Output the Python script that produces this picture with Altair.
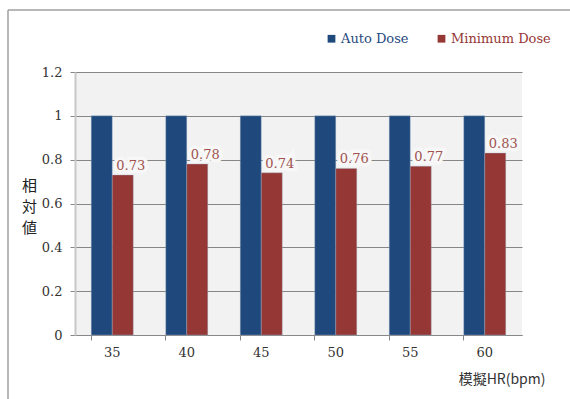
import altair as alt
import pandas as pd

hr = ["35", "40", "45", "50", "55", "60"]
auto_dose = [1, 1, 1, 1, 1, 1]
minimum_dose = [0.73, 0.78, 0.74, 0.76, 0.77, 0.83]
series = ["Auto Dose", "Minimum Dose"]
colors = ["#1F497D", "#953735"]
y_ticks = [0, 0.2, 0.4, 0.6, 0.8, 1.0, 1.2]

rows = []
for h, a, m in zip(hr, auto_dose, minimum_dose):
    rows.append({"hr": h, "series": series[0], "value": a})
    rows.append({"hr": h, "series": series[1], "value": m})
df = pd.DataFrame(rows)
lab = pd.DataFrame({"hr": hr, "series": series[1], "value": minimum_dose})

LATIN = "DejaVu Serif"
CJK = "Noto Sans CJK JP"

xenc = alt.X("hr:N", sort=hr,
             scale=alt.Scale(paddingInner=0.436, paddingOuter=0.218),
             axis=alt.Axis(title="模擬HR(bpm)", labelAngle=0, bandPosition=0,
                           labelFont=LATIN, labelFontSize=13, labelColor="#333333",
                           tickColor="#888888", tickSize=5, labelPadding=6,
                           domainColor="#888888",
                           titleFont=CJK, titleFontSize=14, titleFontWeight="normal",
                           titleColor="#333333", titleAlign="right", titleAnchor="end",
                           titleX=470, titleY=51, titleBaseline="bottom"))
yscale = alt.Scale(domain=[0, 1.2], nice=False)

bars = alt.Chart(df).mark_bar(stroke="#9fb2cc", strokeWidth=0.6, strokeOpacity=0.6).encode(
    x=xenc,
    xOffset=alt.XOffset("series:N", sort=series, scale=alt.Scale(paddingInner=0, paddingOuter=0)),
    y=alt.Y("value:Q", scale=yscale,
            axis=alt.Axis(title=["相", "対", "値"], values=y_ticks, format=".1~f",
                          grid=True, gridColor="#868686", gridWidth=1,
                          domainColor="#c8c8c8", domainWidth=2,
                          tickColor="#888888", tickSize=5, labelPadding=8,
                          labelFont=LATIN, labelFontSize=13, labelColor="#333333",
                          titleFont=CJK, titleFontSize=15, titleFontWeight="normal",
                          titleColor="#222222", titleAngle=0, titleAlign="center",
                          titleBaseline="top", titleLineHeight=21,
                          titleX=-46, titleY=106)),
    color=alt.Color("series:N", sort=series,
                    scale=alt.Scale(domain=series, range=colors),
                    legend=alt.Legend(title=None, orient="none", direction="horizontal",
                                      legendX=250, legendY=-40,
                                      symbolType="square", symbolSize=60,
                                      symbolStrokeWidth=0,
                                      labelFont=LATIN, labelFontSize=13,
                                      labelOffset=3, columnPadding=26,
                                      labelColor=alt.ExprRef(
                                          "datum.value == 'Auto Dose' ? '#1F497D' : '#953735'"))),
)

halo = alt.Chart(lab).mark_text(
    font=LATIN, fontSize=13, align="center", baseline="bottom", dx=8, dy=-2,
    stroke="#f7f7f7", strokeWidth=7, fill="#f7f7f7"
).encode(
    x=alt.X("hr:N", sort=hr),
    xOffset=alt.XOffset("series:N", sort=series),
    y=alt.Y("value:Q", scale=yscale),
    text=alt.Text("value:Q", format=".2f"),
)

labels = alt.Chart(lab).mark_text(
    font=LATIN, fontSize=13, align="center", baseline="bottom", dx=8, dy=-2,
    color="#a0524f"
).encode(
    x=alt.X("hr:N", sort=hr),
    xOffset=alt.XOffset("series:N", sort=series),
    y=alt.Y("value:Q", scale=yscale),
    text=alt.Text("value:Q", format=".2f"),
)

frame_left = alt.Chart(pd.DataFrame({"k": [0]})).mark_rule(color="#a0a0a0", strokeWidth=1.5).encode(
    x=alt.value(-67), y=alt.value(-62), y2=alt.value(330))
frame_top = alt.Chart(pd.DataFrame({"k": [0]})).mark_rule(color="#a0a0a0", strokeWidth=1.5).encode(
    x=alt.value(-67), x2=alt.value(500), y=alt.value(-62))

chart = alt.layer(bars, halo, labels, frame_left, frame_top).properties(
    width=447, height=263,
    padding={"left": 75, "top": 72, "right": 48, "bottom": 64},
    autosize=alt.AutoSizeParams(type="none"),
    background="white",
).configure_view(fill="#f2f2f2", stroke=None)

chart.save("out.html", embed_options={"renderer": "svg", "actions": False})
